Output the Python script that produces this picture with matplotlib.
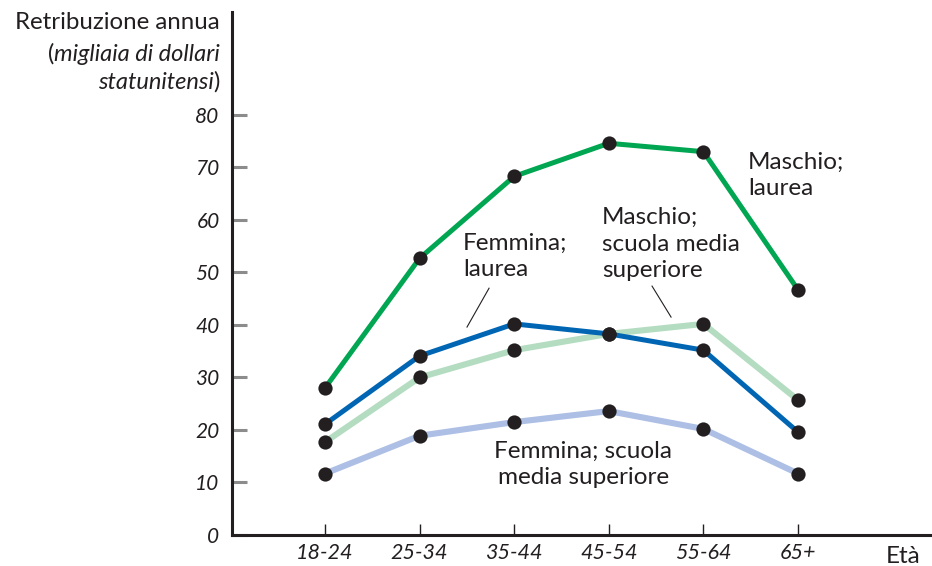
import numpy as np
import matplotlib.pyplot as plt

plt.rcParams['font.family'] = ['Lato', 'DejaVu Sans']

# dati (migliaia di dollari)
eta = ['18-24', '25-34', '35-44', '45-54', '55-64', '65+']
maschio_laurea = [28.0, 52.7, 68.3, 74.6, 73.0, 46.7]
femmina_laurea = [21.1, 34.1, 40.2, 38.3, 35.2, 19.6]
maschio_superiore = [17.7, 30.0, 35.2, 38.3, 40.2, 25.7]
femmina_superiore = [11.7, 18.9, 21.5, 23.6, 20.2, 11.7]
y_ticks = [0, 10, 20, 30, 40, 50, 60, 70, 80]

INK = '#231f20'
W, H = 932, 566

fig = plt.figure(figsize=(W / 100, H / 100), dpi=100)
ax = fig.add_axes([232 / W, (H - 535) / H, (930 - 232) / W, (535 - 12) / H])

x = np.arange(len(eta))
series = [
    (femmina_superiore, '#adbfe4', 4.4),
    (maschio_superiore, '#b4dcc1', 4.4),
    (femmina_laurea, '#0066b3', 3.6),
    (maschio_laurea, '#00a651', 3.6),
]
for vals, col, lw in series:
    ax.plot(x, vals, color=col, lw=lw, solid_capstyle='butt', zorder=2)
for vals, col, lw in series:
    ax.scatter(x, vals, s=105, color=INK, zorder=5, linewidths=0)

ax.set_xlim(-0.983, 6.395)
ax.set_ylim(0, 99.6)

for s in ['top', 'right']:
    ax.spines[s].set_visible(False)
for s in ['left', 'bottom']:
    ax.spines[s].set_linewidth(2.2)
    ax.spines[s].set_color(INK)

ax.set_xticks(x)
ax.set_xticklabels(eta, fontstyle='italic', fontsize=15.5, color=INK)
ax.set_yticks(y_ticks)
ax.set_yticklabels([str(v) for v in y_ticks], fontstyle='italic', fontsize=15, color=INK)
ax.tick_params(axis='x', direction='in', length=8, width=1, color=INK, pad=6)
ax.tick_params(axis='y', direction='in', length=11, width=2.2, color='#8c8c8c', pad=9)

# etichette delle serie
lab = dict(fontsize=17.5, color=INK, linespacing=1.32, va='top')
ax.text(4.47, 73.0, 'Maschio;\nlaurea', ha='left', **lab)
ax.text(1.46, 57.6, 'Femmina;\nlaurea', ha='left', **lab)
ax.text(2.93, 62.4, 'Maschio;\nscuola media\nsuperiore', ha='left', **lab)
ax.text(2.73, 17.9, 'Femmina; scuola\nmedia superiore', ha='center',
        multialignment='center', **lab)

ax.plot([1.734, 1.501], [47.0, 39.6], color=INK, lw=0.8, zorder=1)
ax.plot([3.457, 3.658], [47.4, 41.5], color=INK, lw=0.8, zorder=1)

# titolo asse y
fig.text(220 / W, 1 - 29 / H, 'Retribuzione annua', ha='right', va='baseline',
         fontsize=17.3, color=INK)
t2 = fig.text(220 / W, 1 - 61 / H, 'migliaia di dollari', ha='right', va='baseline',
              fontsize=17, fontstyle='italic', color=INK)
ax.annotate('(', xy=(0, 0), xycoords=t2, ha='right', va='bottom',
            fontsize=17, color=INK, annotation_clip=False)
t3 = fig.text(220 / W, 1 - 89 / H, ')', ha='right', va='baseline',
              fontsize=17, color=INK)
ax.annotate('statunitensi', xy=(0, 0), xycoords=t3, ha='right', va='bottom',
            fontsize=17, fontstyle='italic', color=INK, annotation_clip=False)

fig.text(921 / W, 1 - 563 / H, 'Età', ha='right', va='baseline', fontsize=17.5, color=INK)

fig.savefig('out.png', dpi=100)
